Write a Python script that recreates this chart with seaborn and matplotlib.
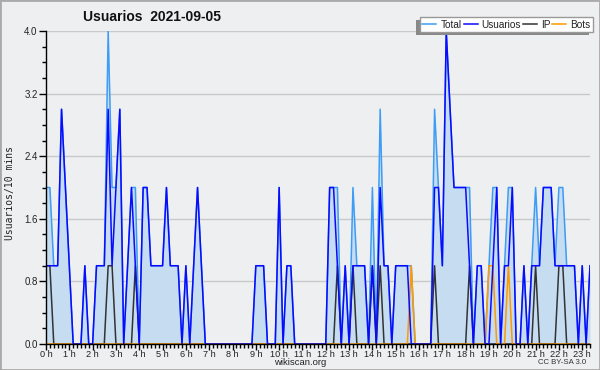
import numpy as np
import pandas as pd
import matplotlib
matplotlib.use("Agg")
import matplotlib.pyplot as plt
import seaborn as sns
from matplotlib.patches import Rectangle
from matplotlib.lines import Line2D
from matplotlib.ticker import FixedLocator, FormatStrFormatter

# 10-minute bins, 0:00 .. 23:20 (one row per hour)
usuarios = [
    1, 1, 1, 1, 3, 2,
    1, 0, 0, 0, 1, 0,
    0, 1, 1, 1, 3, 1,
    2, 3, 0, 1, 2, 1,
    0, 2, 2, 1, 1, 1,
    1, 2, 1, 1, 1, 0,
    1, 0, 1, 2, 1, 0,
    0, 0, 0, 0, 0, 0,
    0, 0, 0, 0, 0, 0,
    1, 1, 1, 0, 0, 0,
    2, 0, 1, 1, 0, 0,
    0, 0, 0, 0, 0, 0,
    0, 2, 2, 1, 0, 1,
    0, 1, 1, 1, 1, 0,
    1, 0, 2, 1, 1, 0,
    1, 1, 1, 1, 0, 0,
    0, 0, 0, 0, 2, 2,
    1, 4, 3, 2, 2, 2,
    2, 1, 0, 1, 1, 0,
    0, 1, 2, 0, 1, 1,
    2, 0, 0, 1, 0, 1,
    1, 1, 2, 2, 2, 1,
    1, 1, 1, 1, 1, 0,
    1, 0, 1,
]
ip = [
    1, 1, 0, 0, 0, 0,
    0, 0, 0, 0, 0, 0,
    0, 0, 0, 0, 1, 1,
    0, 0, 0, 0, 0, 1,
    0, 0, 0, 0, 0, 0,
    0, 0, 0, 0, 0, 0,
    0, 0, 0, 0, 0, 0,
    0, 0, 0, 0, 0, 0,
    0, 0, 0, 0, 0, 0,
    0, 0, 0, 0, 0, 0,
    0, 0, 0, 0, 0, 0,
    0, 0, 0, 0, 0, 0,
    0, 0, 0, 1, 0, 0,
    0, 1, 0, 0, 0, 0,
    1, 0, 1, 0, 0, 0,
    0, 0, 0, 0, 0, 0,
    0, 0, 0, 0, 1, 0,
    0, 0, 0, 0, 0, 0,
    0, 1, 0, 0, 0, 0,
    0, 0, 0, 0, 0, 0,
    0, 0, 0, 0, 0, 0,
    1, 0, 0, 0, 0, 0,
    1, 1, 0, 0, 0, 0,
    0, 0, 0,
]
bots = [
    0, 0, 0, 0, 0, 0,
    0, 0, 0, 0, 0, 0,
    0, 0, 0, 0, 0, 0,
    0, 0, 0, 0, 0, 0,
    0, 0, 0, 0, 0, 0,
    0, 0, 0, 0, 0, 0,
    0, 0, 0, 0, 0, 0,
    0, 0, 0, 0, 0, 0,
    0, 0, 0, 0, 0, 0,
    0, 0, 0, 0, 0, 0,
    0, 0, 0, 0, 0, 0,
    0, 0, 0, 0, 0, 0,
    0, 0, 0, 0, 0, 0,
    0, 0, 0, 0, 0, 0,
    0, 0, 0, 0, 0, 0,
    0, 0, 0, 0, 1, 0,
    0, 0, 0, 0, 0, 0,
    0, 0, 0, 0, 0, 0,
    0, 0, 0, 0, 0, 0,
    1, 1, 0, 0, 0, 1,
    0, 0, 0, 0, 0, 0,
    0, 0, 0, 0, 0, 0,
    0, 0, 0, 0, 0, 0,
    0, 0, 0,
]
total = [
    2, 2, 1, 1, 3, 2,
    1, 0, 0, 0, 1, 0,
    0, 1, 1, 1, 4, 2,
    2, 3, 0, 1, 2, 2,
    0, 2, 2, 1, 1, 1,
    1, 2, 1, 1, 1, 0,
    1, 0, 1, 2, 1, 0,
    0, 0, 0, 0, 0, 0,
    0, 0, 0, 0, 0, 0,
    1, 1, 1, 0, 0, 0,
    2, 0, 1, 1, 0, 0,
    0, 0, 0, 0, 0, 0,
    0, 2, 2, 2, 0, 1,
    0, 2, 1, 1, 1, 0,
    2, 0, 3, 1, 1, 0,
    1, 1, 1, 1, 1, 0,
    0, 0, 0, 0, 3, 2,
    1, 4, 3, 2, 2, 2,
    2, 2, 0, 1, 1, 0,
    1, 2, 2, 0, 1, 2,
    2, 0, 0, 1, 0, 1,
    2, 1, 2, 2, 2, 1,
    2, 2, 1, 1, 1, 0,
    1, 0, 1,
]
hour_labels = [f"{h} h" for h in range(24)]
y_ticks = [0.0, 0.8, 1.6, 2.4, 3.2, 4.0]
series_names = ["Total", "Usuarios", "IP", "Bots"]
series_colors = ["#3d9cf5", "#0a0aff", "#333333", "#ff9900"]

n = len(total)
df = pd.DataFrame({
    "hour": np.arange(n) / 6.0,
    "Total": total,
    "Usuarios": usuarios,
    "IP": ip,
    "Bots": bots,
})

W, H = 600, 370
fig = plt.figure(figsize=(W / 100, H / 100), dpi=100)
bg = "#eeeff0"
fig.patch.set_facecolor(bg)
ax = fig.add_axes([46 / W, 1 - 344 / H, 544 / W, 313 / H])
ax.set_facecolor(bg)

ax.fill_between(df["hour"], 0, df["Total"], color="#c6dcf0", lw=0, zorder=1)
zorders = {"Total": 2, "IP": 3, "Bots": 4, "Usuarios": 5}
for name, col in zip(series_names, series_colors):
    sns.lineplot(data=df, x="hour", y=name, ax=ax, color=col, lw=1.1,
                 zorder=zorders[name], legend=False)

ax.set_xlim(0, (n - 1) / 6.0)
ax.set_ylim(0, 4.0)
ax.set_xlabel("")
ax.set_ylabel("")

ax.yaxis.set_major_locator(FixedLocator(y_ticks))
ax.yaxis.set_minor_locator(FixedLocator(np.arange(0, 4.001, 0.2)))
ax.yaxis.set_major_formatter(FormatStrFormatter("%.1f"))
ax.xaxis.set_major_locator(FixedLocator(range(24)))
ax.xaxis.set_minor_locator(FixedLocator(np.arange(0, (n - 1) / 6.0 + 1e-6, 1 / 6.0)))
ax.set_xticklabels(hour_labels)

ax.yaxis.grid(True, which="major", color="#c9c9c9", lw=1)
ax.xaxis.grid(False)
ax.set_axisbelow(True)

for s in ["top", "right"]:
    ax.spines[s].set_visible(False)
for s in ["left", "bottom"]:
    ax.spines[s].set_color("black")
    ax.spines[s].set_linewidth(1)
    ax.spines[s].set_zorder(6)

ax.tick_params(axis="y", which="major", length=5, width=1, direction="out",
               labelsize=7, pad=1, color="black")
ax.tick_params(axis="y", which="minor", length=3, width=1, direction="out",
               color="black")
ax.tick_params(axis="x", which="major", length=4, width=1, direction="out",
               labelsize=6.6, pad=0, color="black")
ax.tick_params(axis="x", which="minor", length=3, width=1, direction="out",
               color="black")
for lab in ax.get_xticklabels() + ax.get_yticklabels():
    lab.set_family("Liberation Sans")
    lab.set_color("#222222")

fig.text(152 / W, 1 - 17 / H, "Usuarios  2021-09-05", ha="center", va="center",
         fontsize=10, fontweight="bold", family="Liberation Sans", color="#111111")
fig.text(10 / W, 1 - 193 / H, "Usuarios/10 mins", rotation=90, ha="center",
         va="center", fontsize=7, family="DejaVu Sans Mono", color="#222222")
fig.text(300 / W, 1 - 362.5 / H, "wikiscan.org", ha="center", va="center",
         fontsize=6.8, family="Liberation Sans", color="#222222")
fig.text(562 / W, 1 - 363 / H, "CC BY-SA 3.0", ha="center", va="center",
         fontsize=5.6, family="Liberation Sans", color="#333333")

handles = [Line2D([], [], color=c, lw=1.1) for c in series_colors]
leg = ax.legend(handles, series_names, loc="upper right",
                bbox_to_anchor=(593 / W, 1 - 17 / H), bbox_transform=fig.transFigure,
                ncol=4, frameon=True, fancybox=False, framealpha=1,
                facecolor="white", edgecolor="#999999", fontsize=7.2,
                handlelength=1.4, handletextpad=0.4, columnspacing=0.2,
                borderpad=0.25, borderaxespad=0)
leg.set_zorder(10)
leg.get_frame().set_linewidth(1)
for t in leg.get_texts():
    t.set_family("Liberation Sans")
    t.set_color("#222222")

fig.canvas.draw()
bb = leg.get_window_extent()
shadow = Rectangle((bb.x0 - 4, bb.y0 - 3), bb.width, bb.height, transform=None,
                   facecolor="#888888", edgecolor="none", zorder=9, clip_on=False)
ax.add_artist(shadow)

fig.add_artist(Rectangle((0, 0), 1, 1, transform=fig.transFigure, fill=False,
                         edgecolor="#aaaaaa", lw=2, zorder=20))

fig.savefig("out.png", dpi=100, facecolor=fig.get_facecolor())
